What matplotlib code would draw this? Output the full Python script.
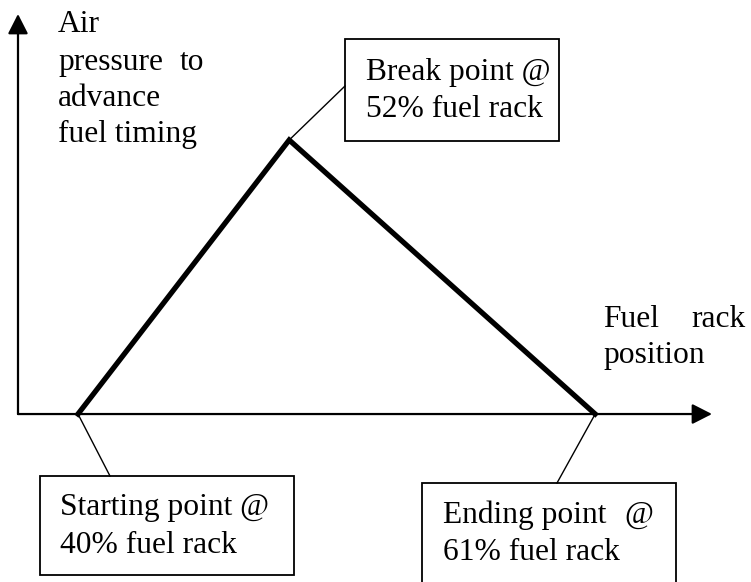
import matplotlib
matplotlib.use("Agg")
import matplotlib.pyplot as plt
from matplotlib.patches import Rectangle

# === DATOS === #
# posiciones esquemáticas sobre el eje de cremallera (no a escala)
rack_x = [1.0, 4.52, 9.62]
pressure = [0.0, 1.0, 0.0]
rack_pct = [40, 52, 61]
point_names = ["Starting point", "Break point", "Ending point"]

plt.rcParams["font.family"] = ["Liberation Serif", "DejaVu Serif"]
FS = 22.7

fig = plt.figure(figsize=(7.51, 5.82), dpi=100)
ax = fig.add_axes([0, 0, 1, 1])
ax.set_xlim(-0.3, 12.217)
ax.set_ylim(-0.613, 1.511)
ax.axis("off")


# pixel del dibujo -> unidades del esquema
def px(x):
    return (x - 18) / 60.0


def py(y):
    return (414 - y) / 274.0


# ejes con flechas
arrow = dict(arrowstyle="-|>,head_length=0.55,head_width=0.28", lw=1.6,
             color="black", mutation_scale=22, shrinkA=0, shrinkB=0)
ax.annotate("", xy=(px(712), 0), xytext=(px(18), 0), arrowprops=arrow)
ax.annotate("", xy=(px(18), py(14)), xytext=(px(18), 0), arrowprops=arrow)

# curva principal
ax.plot(rack_x, pressure, color="black", lw=3.8, solid_joinstyle="miter")

# etiquetas de ejes
ax.text(px(58), py(32), "Air", fontsize=FS, va="baseline")
ax.text(px(58), py(70), "pressure", fontsize=FS, va="baseline")
ax.text(px(204), py(70), "to", fontsize=FS, va="baseline", ha="right")
ax.text(px(58), py(106), "advance", fontsize=FS, va="baseline")
ax.text(px(58), py(142), "fuel timing", fontsize=FS, va="baseline")

ax.text(px(603), py(327), "Fuel", fontsize=FS, va="baseline")
ax.text(px(746), py(327), "rack", fontsize=FS, va="baseline", ha="right")
ax.text(px(603), py(363), "position", fontsize=FS, va="baseline")

# cajas de anotación: (izq, arriba, der, abajo), texto x, líneas base, anclaje de la guía
boxes = [
    ((40, 476, 294, 575), 60, (515, 553), (110, 476)),
    ((345, 39, 559, 141), 366, (80, 117), (345, 86)),
    ((422, 483, 676, 600), 443, (523, 560), (557, 483)),
]

for i, (box, tx, (b1, b2), (ax_px, ay_px)) in enumerate(boxes):
    l, t, r, b = box
    ax.add_patch(Rectangle((px(l), py(b)), px(r) - px(l), py(t) - py(b),
                           fill=False, ec="black", lw=1.3, zorder=3))
    ax.plot([rack_x[i], px(ax_px)], [pressure[i], py(ay_px)],
            color="black", lw=1.0)
    if i == 2:
        ax.text(px(tx), py(b1), point_names[i], fontsize=FS, va="baseline")
        ax.text(px(653), py(b1), "@", fontsize=FS, va="baseline", ha="right")
    else:
        ax.text(px(tx), py(b1), point_names[i] + " @", fontsize=FS, va="baseline")
    ax.text(px(tx), py(b2), f"{rack_pct[i]}% fuel rack", fontsize=FS, va="baseline")

fig.savefig("out.png", dpi=100)
plt.close(fig)
